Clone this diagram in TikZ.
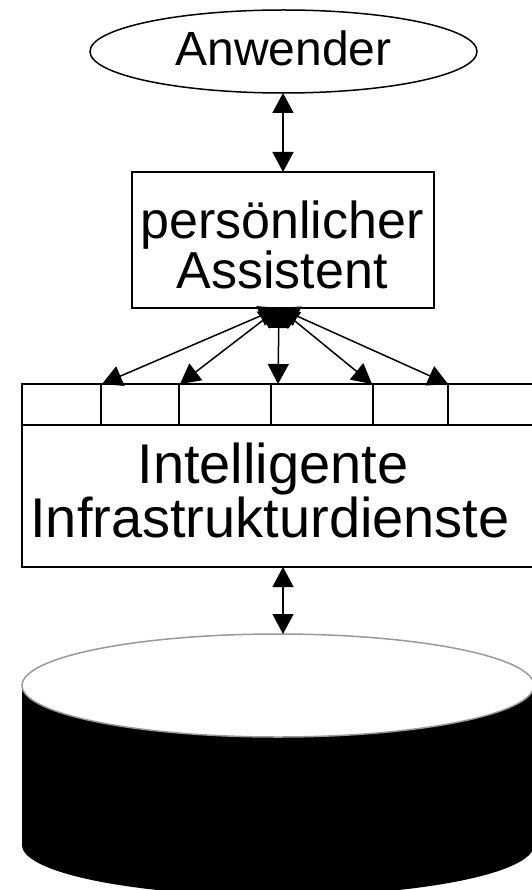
\documentclass[tikz,border=0pt]{standalone}
\usepackage{fontspec}
\setmainfont{Liberation Sans}
\usetikzlibrary{arrows.meta,shapes.geometric}
\begin{document}
\begin{tikzpicture}[x=1pt,y=-1pt,line width=1.5pt,
  head/.tip={Triangle[length=20pt,width=21pt]},
  both/.style={head-head},
  shapebox/.style={draw,inner sep=0pt,outer sep=0pt},
  txt/.style={anchor=base,inner sep=0pt},
]
\useasboundingbox (0,0) rectangle (531,890);

% user ellipse
\node[shapebox,ellipse,minimum width=387pt,minimum height=83pt] (user) at (283.5,51.5) {};
\node[txt,font=\fontsize{48}{48}\selectfont] (usertext) at (283.5,66) {Anwender};

% assistant box
\node[shapebox,rectangle,minimum width=302pt,minimum height=136pt] (assist) at (283,240) {};
\node[txt,font=\fontsize{52}{52}\selectfont] (assist1) at (282,239) {persönlicher};
\node[txt,font=\fontsize{52}{52}\selectfont] (assist2) at (282,288) {Assistent};

% infrastructure box with its row of service cells
\node[shapebox,rectangle,minimum width=520pt,minimum height=183pt] (infra) at (282,475.5) {};
\draw (22,425) -- (540,425);
\foreach \x/\n in {101/c1,179/c2,271/c3,373/c4,448/c5}{
  \coordinate (\n) at (\x,384);
  \draw (\n) -- (\x,425);
}
\node[txt,font=\fontsize{56}{54}\selectfont] (infra1) at (273,483.5) {Intelligente};
\node[txt,font=\fontsize{56}{54}\selectfont] (infra2) at (270,537.5) {Infrastrukturdienste};

% arrow targets on the cells
\coordinate (fan) at (279,308);
\coordinate (t1) at (102,384);
\coordinate (t2) at (180,384);
\coordinate (t3) at (278,384);
\coordinate (t4) at (372,384);
\coordinate (t5) at (448,384);

% database cylinder
\coordinate (db) at (283,634);
\fill[black] (22,685.5) -- (22,845) arc[start angle=180,end angle=0,x radius=256,y radius=51] -- (534,685.5) -- cycle;
\draw[gray!80,fill=white,line width=1.5pt] (278,685.5) ellipse[x radius=256,y radius=51.5];

% connectors
\draw[both] (user.south -| 283,0) -- (assist.north -| 283,0);
\foreach \t in {t1,t2,t3,t4,t5}{
  \draw[both] (fan) -- (\t);
}
\draw[both] (infra.south -| 283,0) -- (db);
\end{tikzpicture}
\end{document}
